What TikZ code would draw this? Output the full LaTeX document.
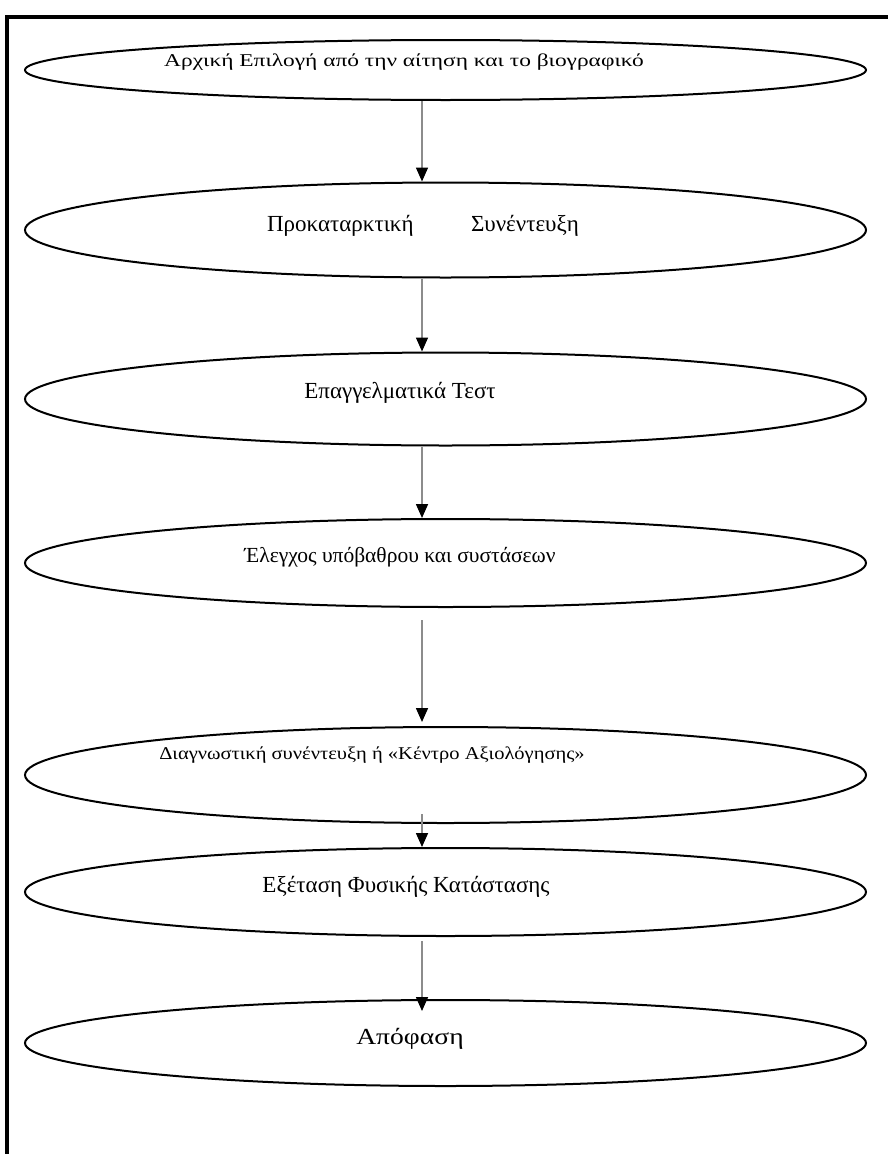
\documentclass[tikz,border=0pt]{standalone}
\usepackage{fontspec}
\setmainfont{Liberation Serif}
\usetikzlibrary{shapes.geometric,arrows.meta}
\begin{document}
\begin{tikzpicture}[x=1pt,y=-1pt,
  oval/.style={draw=black,line width=2pt,ellipse,minimum width=841pt,inner sep=0pt},
  lbl/.style={inner sep=0pt,font=\fontsize{23}{27}\selectfont},
  lblsmall/.style={inner sep=0pt,font=\fontsize{18}{22}\selectfont},
  arr/.style={draw=black!45,line width=1.6pt,-{Triangle[length=14pt,width=12pt,fill=black,color=black]}},
  frame/.style={line width=3.5pt,line cap=rect}]
\useasboundingbox (0,0) rectangle (888,1154);
\draw[frame] (7,1160) -- (7,17) -- (895,17);
\node[oval,minimum height=60pt] (e1) at (445.5,70) {};
\node[oval,minimum height=95pt] (e2) at (445.5,230) {};
\node[oval,minimum height=93pt] (e3) at (445.5,399) {};
\node[oval,minimum height=88pt] (e4) at (445.5,563) {};
\node[oval,minimum height=96pt] (e5) at (445.5,775) {};
\node[oval,minimum height=88pt] (e6) at (445.5,892) {};
\node[oval,minimum height=86pt] (e7) at (445.5,1043) {};
\node[lblsmall] (t1) at (404,62) {\scalebox{1.3}[1]{Αρχική Επιλογή από την αίτηση και το βιογραφικό}};
\node[lbl] (t2) at (423,226) {Προκαταρκτική\hspace{2.5em}Συνέντευξη};
\node[lbl] (t3) at (400,393) {Επαγγελματικά Τεστ};
\node[inner sep=0pt,font=\fontsize{21.5}{25}\selectfont] (t4) at (400,557) {Έλεγχος υπόβαθρου και συστάσεων};
\node[lblsmall] (t5) at (372,755) {\scalebox{1.14}[1]{Διαγνωστική συνέντευξη ή «Κέντρο Αξιολόγησης»}};
\node[lbl] (t6) at (406,887) {Εξέταση Φυσικής Κατάστασης};
\node[lbl] (t7) at (410,1039) {\scalebox{1.2}[1]{Απόφαση}};
\coordinate (ax) at (422,0);
\draw[arr] (e1.south -| ax) -- (e2.north -| ax);
\draw[arr] (e2.south -| ax) -- (e3.north -| ax);
\draw[arr] (e3.south -| ax) -- (e4.north -| ax);
\draw[arr,shorten <=12pt,shorten >=4pt] (e4.south -| ax) -- (e5.north -| ax);
\draw[arr,shorten <=-10pt] (e5.south -| ax) -- (e6.north -| ax);
\draw[arr,shorten <=4pt,shorten >=-12pt] (e6.south -| ax) -- (e7.north -| ax);
\end{tikzpicture}
\end{document}
